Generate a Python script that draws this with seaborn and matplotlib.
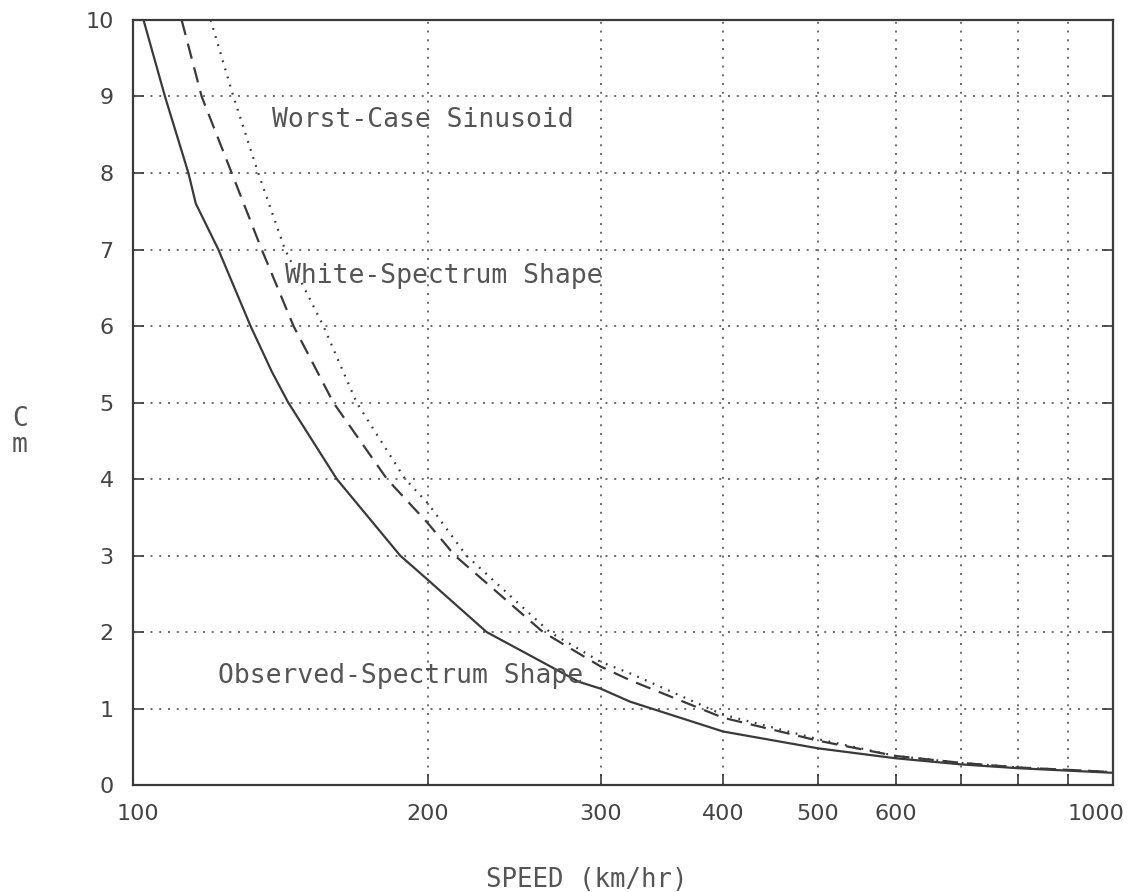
import numpy as np
import matplotlib
matplotlib.use("Agg")
import matplotlib.pyplot as plt
from matplotlib.ticker import NullLocator
from matplotlib.transforms import ScaledTranslation
import pandas as pd
import seaborn as sns

# curves (speed in km/hr, Cm)
observed_speed = [102.5, 107.8, 113.9, 115.9, 122.2, 131.8, 138.6, 144.0, 161.4, 187.3,
                  200, 229.5, 285, 300, 321.5, 400, 500, 600, 700, 800, 1000]
observed_cm = [10, 9, 8, 7.6, 7, 6, 5.4, 5, 4, 3,
               2.68, 2, 1.35, 1.26, 1.09, 0.70, 0.48, 0.35, 0.27, 0.22, 0.16]

white_speed = [112.1, 117.5, 126.1, 135.3, 145.8, 160.1, 181.6, 200, 213, 262,
               300, 321.5, 400, 500, 600, 700, 800, 1000]
white_cm = [10, 9, 8, 7, 6, 5, 4, 3.42, 3, 2,
            1.55, 1.37, 0.88, 0.58, 0.38, 0.29, 0.23, 0.17]

worst_speed = [120.0, 126.6, 134.2, 142.9, 156.4, 169.1, 189.5, 200, 218.8, 266.2,
               300, 321.5, 400, 500, 600, 700, 800, 1000]
worst_cm = [10, 9, 8, 7, 6, 5, 4, 3.68, 3, 2,
            1.61, 1.46, 0.92, 0.60, 0.38, 0.29, 0.23, 0.17]

grid_speeds = [100, 200, 300, 400, 500, 600, 700, 800, 900, 1000]
speed_labels = ["100", "200", "300", "400", "500", "600", "", "", "", "1000"]
cm_ticks = list(range(0, 11))

sns.set_style("white")
plt.rcParams["font.family"] = ["DejaVu Sans"]

fig = plt.figure(figsize=(11.33, 8.92), dpi=100)
ax = fig.add_axes([0.1174, 0.1199, 0.865, 0.8577])

ink = "#3a3a3a"
sns.lineplot(x=observed_speed, y=observed_cm, ax=ax, color=ink, lw=1.6, sort=False)
sns.lineplot(x=white_speed, y=white_cm, ax=ax, color=ink, lw=1.6, sort=False,
             linestyle=(0, (7, 4)))
sns.lineplot(x=worst_speed, y=worst_cm, ax=ax, color=ink, lw=1.6, sort=False,
             linestyle=(0, (0.8, 3)))

ax.set_xscale("log")
ax.set_xlim(100, 1000)
ax.set_ylim(0, 10)
ax.set_xticks(grid_speeds)
ax.set_xticklabels(speed_labels)
ax.xaxis.set_minor_locator(NullLocator())
ax.set_yticks(cm_ticks)

ax.grid(True, color="#6a6a6a", linestyle=(0, (1, 3.5)), lw=1.4)
ax.tick_params(direction="in", length=8, width=1.2, color=ink,
               labelsize=16, labelcolor="#444444", pad=14,
               left=True, right=True, bottom=True, top=False)
for s in ax.spines.values():
    s.set_visible(True)
    s.set_color(ink)
    s.set_linewidth(1.6)

# nudge the end labels the way the original plotter placed them
xlabels = ax.get_xticklabels()
xlabels[-1].set_transform(xlabels[-1].get_transform()
                          + ScaledTranslation(-0.17, 0, fig.dpi_scale_trans))
xlabels[0].set_transform(xlabels[0].get_transform()
                         + ScaledTranslation(0.05, 0, fig.dpi_scale_trans))

mono = "DejaVu Sans Mono"
label_kw = dict(family=mono, fontsize=19, color="#555555", va="center", ha="left",
                xycoords="figure fraction")
ax.annotate("Worst-Case Sinusoid", xy=(272 / 1133, 1 - 120 / 892), **label_kw)
ax.annotate("White-Spectrum Shape", xy=(285 / 1133, 1 - 276 / 892), **label_kw)
ax.annotate("Observed-Spectrum Shape", xy=(218 / 1133, 1 - 676 / 892), **label_kw)

fig.text(587 / 1133, 1 - 880 / 892, "SPEED (km/hr)", family=mono, fontsize=18.5,
         color="#555555", ha="center", va="center")
fig.text(20 / 1133, 1 - 432 / 892, "C\nm", family=mono, fontsize=19,
         color="#555555", ha="center", va="center", linespacing=1.0)

fig.savefig("out.png", dpi=100)
